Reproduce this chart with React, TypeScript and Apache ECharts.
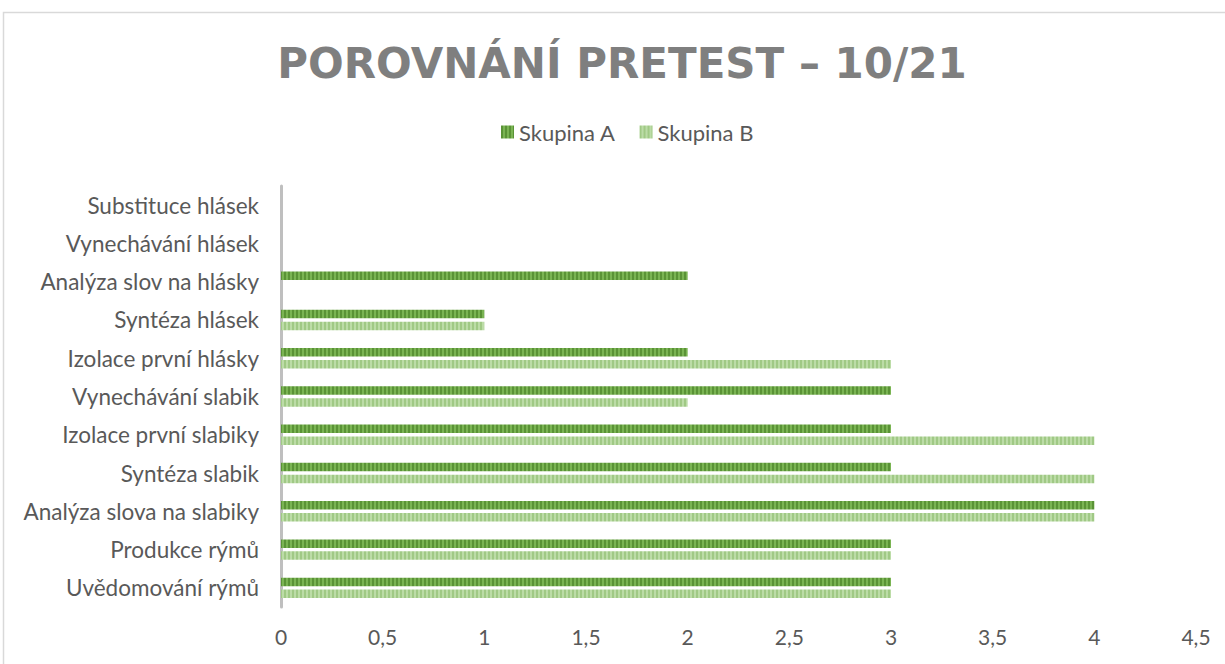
import React, { useEffect, useRef } from "react";
import * as echarts from "echarts";

const categories = [
  "Uvědomování rýmů",
  "Produkce rýmů",
  "Analýza slova na slabiky",
  "Syntéza slabik",
  "Izolace první slabiky",
  "Vynechávání slabik",
  "Izolace první hlásky",
  "Syntéza hlásek",
  "Analýza slov na hlásky",
  "Vynechávání hlásek",
  "Substituce hlásek",
];
const groupA = [3, 3, 4, 3, 3, 3, 2, 1, 2, 0, 0];
const groupB = [3, 3, 4, 4, 4, 2, 3, 1, 0, 0, 0];
const seriesNames = ["Skupina A", "Skupina B"];
const titleText = "POROVNÁNÍ PRETEST – 10/21";

function stripe(c1: string, c2: string) {
  const cv = document.createElement("canvas");
  cv.width = 4;
  cv.height = 4;
  const ctx = cv.getContext("2d")!;
  ctx.fillStyle = c1;
  ctx.fillRect(0, 0, 2, 4);
  ctx.fillStyle = c2;
  ctx.fillRect(2, 0, 2, 4);
  return { image: cv.toDataURL(), repeat: "repeat", imageWidth: 4, imageHeight: 4 };
}

export default function App() {
  const ref = useRef<HTMLDivElement>(null);
  useEffect(() => {
    const chart = echarts.init(ref.current!, null, { renderer: "svg" });
    const patA = stripe("#5a9336", "#7ab453");
    const patB = stripe("#a0c985", "#bcdca7");
    const font = "Lato";
    chart.setOption({
      animation: false,
      backgroundColor: "#ffffff",
      title: {
        text: titleText,
        left: 622,
        textAlign: "center",
        top: 42,
        padding: 0,
        textStyle: {
          fontFamily: "DejaVu Sans",
          fontWeight: "bold",
          fontSize: 42,
          color: "#7f7f7f",
        },
      },
      legend: {
        data: seriesNames,
        left: 501,
        top: 121,
        padding: 0,
        icon: "rect",
        itemWidth: 13,
        itemHeight: 13,
        itemGap: 24,
        textStyle: { fontFamily: font, fontSize: 22, color: "#595959", padding: [0, 0, 0, 0] },
      },
      graphic: [
        {
          type: "rect",
          shape: { x: 3.5, y: 12.5, width: 1400, height: 900 },
          style: { fill: "none", stroke: "#d9d9d9", lineWidth: 1.5 },
          silent: true,
        },
      ],
      grid: { left: 281, right: 29, top: 186, bottom: 57, containLabel: false },
      xAxis: {
        type: "value",
        min: 0,
        max: 4.5,
        interval: 0.5,
        axisLine: { show: false },
        axisTick: { show: false },
        splitLine: { show: false },
        axisLabel: {
          fontFamily: font,
          fontSize: 21,
          color: "#595959",
          margin: 19,
          formatter: (v: number) => String(v).replace(".", ","),
        },
      },
      yAxis: {
        type: "category",
        data: categories,
        axisTick: { show: false },
        axisLine: { lineStyle: { color: "#BFBFBF", width: 3 } },
        axisLabel: { fontFamily: font, fontSize: 22.5, color: "#595959", margin: 22 },
      },
      series: [
        {
          name: seriesNames[0],
          type: "bar",
          data: groupA,
          barWidth: 8.5,
          barGap: "40%",
          itemStyle: { color: patA },
        },
        {
          name: seriesNames[1],
          type: "bar",
          data: groupB,
          barWidth: 8.5,
          barGap: "40%",
          itemStyle: { color: patB },
        },
      ],
    });
    return () => chart.dispose();
  }, []);
  return (
    <div
      ref={ref}
      style={{ position: "fixed", left: 0, top: 0, width: 1225, height: 664, background: "#fff" }}
    />
  );
}
